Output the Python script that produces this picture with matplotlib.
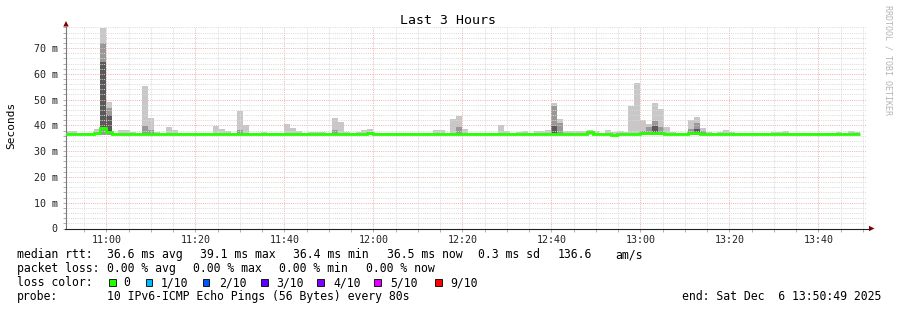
import matplotlib
matplotlib.use("Agg")
import matplotlib.pyplot as plt
from matplotlib.patches import Rectangle, Polygon
from matplotlib.lines import Line2D
from matplotlib.ticker import FixedLocator, MultipleLocator

# ---------------- data ----------------
step_seconds = 80
first_step_start_min = -560 / 60      # 10:50:40, minutes relative to 11:00
window_start_min = -(9 * 60 + 11) / 60  # 10:50:49
window_minutes = 180

median_ms = [
    36.6, 36.6, 36.5, 36.6, 36.6, 37.0, 39.1, 37.3, 36.6, 36.6,
    36.6, 36.5, 36.6, 36.6, 36.6, 36.6, 36.5, 36.6, 36.6, 36.6,
    36.6, 36.6, 36.5, 36.6, 36.6, 36.6, 36.6, 36.5, 36.6, 36.6,
    36.6, 36.6, 36.6, 36.5, 36.6, 36.6, 36.6, 36.6, 36.6, 36.5,
    36.6, 36.6, 36.6, 36.6, 36.5, 36.6, 36.6, 36.6, 36.6, 36.6,
    36.7, 37.2, 36.6, 36.6, 36.5, 36.6, 36.6, 36.6, 36.6, 36.6,
    36.6, 36.5, 36.6, 36.6, 36.6, 36.7, 36.7, 36.6, 36.6, 36.6,
    36.5, 36.6, 36.6, 36.6, 36.6, 36.6, 36.5, 36.6, 36.6, 36.6,
    36.6, 36.6, 36.7, 36.7, 36.6, 36.6, 36.6, 36.6, 37.3, 36.6,
    36.6, 36.6, 36.4, 36.5, 36.6, 36.6, 36.6, 37.0, 37.0, 37.0,
    37.0, 36.6, 36.6, 36.6, 36.6, 36.9, 36.9, 36.6, 36.6, 36.6,
    36.6, 36.6, 36.6, 36.6, 36.5, 36.6, 36.6, 36.6, 36.6, 36.6,
    36.6, 36.6, 36.6, 36.5, 36.6, 36.6, 36.6, 36.6, 36.6, 36.6,
    36.6, 36.6, 36.6, 36.5,
]

smoke_max_ms = [
    37.7, 37.7, 37.0, 37.0, 37.0, 38.6, 77.8, 49.0, 37.0, 38.1,
    38.1, 37.3, 37.0, 55.2, 42.9, 37.5, 37.0, 39.3, 38.1, 37.0,
    37.0, 37.0, 37.0, 37.0, 37.0, 39.7, 38.6, 37.9, 37.0, 45.5,
    40.1, 37.0, 37.0, 37.5, 37.0, 37.0, 37.0, 40.5, 38.9, 37.9,
    37.0, 37.5, 37.5, 37.5, 37.0, 42.8, 41.2, 37.5, 37.0, 37.5,
    38.1, 38.6, 37.0, 37.0, 37.0, 37.0, 37.0, 37.0, 37.0, 37.0,
    37.0, 37.0, 38.1, 38.1, 37.0, 42.4, 43.7, 38.6, 37.0, 37.0,
    37.0, 37.0, 37.0, 40.1, 37.9, 37.0, 37.5, 37.9, 37.0, 37.9,
    37.9, 38.1, 48.8, 42.4, 38.0, 37.9, 37.9, 37.9, 38.1, 37.9,
    37.0, 38.1, 37.5, 37.9, 37.5, 47.6, 56.6, 42.0, 40.5, 48.6,
    46.3, 39.3, 37.5, 37.0, 37.0, 42.0, 43.2, 38.9, 37.5, 37.0,
    37.5, 38.1, 37.5, 37.0, 37.0, 37.0, 37.0, 37.0, 37.0, 37.5,
    37.5, 38.0, 37.0, 37.0, 37.0, 37.0, 37.0, 37.0, 37.0, 37.0,
    37.5, 37.0, 37.9, 37.5,
]
smoke_min_ms = 36.2

mid_steps = [6, 7, 13, 14, 29, 45, 66, 82, 83, 97, 98, 99, 100, 105, 106, 107]
mid_top_ms = [71.9, 46.6, 39.7, 38.1, 38.1, 38.1, 39.4, 47.5, 40.8, 38.0, 39.2,
              41.6, 39.4, 38.8, 40.9, 37.7]
mid_bottom_ms = 36.4

dark_steps = [6, 7, 82, 99, 106]
dark_top_ms = [64.6, 44.0, 39.7, 39.8, 38.6]
dark_bottom_ms = [39.4, 37.0, 37.0, 37.0, 37.0]

x_tick_labels = ["11:00", "11:20", "11:40", "12:00", "12:20", "12:40", "13:00", "13:20", "13:40"]
y_tick_values = [0, 10, 20, 30, 40, 50, 60, 70]
y_tick_labels = ["0", "10 m", "20 m", "30 m", "40 m", "50 m", "60 m", "70 m"]

loss_labels = ["0", "1/10", "2/10", "3/10", "4/10", "5/10", "9/10"]
loss_colors = ["#26ff00", "#00b8ff", "#0059ff", "#5e00ff", "#7e00ff", "#dd00ff", "#ff0000"]

# ---------------- layout ----------------
MONO = "DejaVu Sans Mono"
W, H = 897, 310
fig = plt.figure(figsize=(W / 100, H / 100), dpi=100)
fig.patch.set_facecolor("white")

def fx(x):
    return x / W

def fy(y):
    return 1 - y / H

L, R, T, B = 65.5, 866.5, 26.7, 228.5
ax = fig.add_axes([fx(L), fy(B), (R - L) / W, (B - T) / H])
ax.set_facecolor("white")
ax.set_xlim(window_start_min, window_start_min + window_minutes)
ax.set_ylim(0, 78.3)

n = len(median_ms)
step = step_seconds / 60
edges = [first_step_start_min + i * step for i in range(n + 1)]

light = "#c8c8c8"
mid = "#989898"
dark = "#5a5a5a"

ax.stairs(smoke_max_ms, edges, baseline=smoke_min_ms, fill=True, color=light,
          lw=0, zorder=1)

mid_full = [mid_bottom_ms] * n
for s, v in zip(mid_steps, mid_top_ms):
    mid_full[s] = v
ax.stairs(mid_full, edges, baseline=mid_bottom_ms, fill=True, color=mid, lw=0, zorder=1.1)

dark_full = [37.0] * n
dark_base = [37.0] * n
for s, v, b in zip(dark_steps, dark_top_ms, dark_bottom_ms):
    dark_full[s] = v
    dark_base[s] = b
ax.stairs(dark_full, edges, baseline=dark_base, fill=True, color=dark, lw=0, zorder=1.2)

ax.stairs(median_ms, edges, baseline=None, color="#26ff00", lw=2.0, zorder=3)

# grid and ticks
xt = [20 * i for i in range(len(x_tick_labels))]
ax.xaxis.set_major_locator(FixedLocator(xt))
ax.set_xticklabels(x_tick_labels)
ax.xaxis.set_minor_locator(MultipleLocator(5))
ax.yaxis.set_major_locator(FixedLocator(y_tick_values))
ax.set_yticklabels(y_tick_labels)
ax.yaxis.set_minor_locator(MultipleLocator(2))
ax.set_axisbelow("line")
ax.grid(which="minor", color="#dadada", lw=0.72, ls=(0, (1, 1.2)))
ax.grid(which="major", color="#f3b3b3", lw=0.72, ls=(0, (1, 1.2)))
ax.tick_params(which="both", direction="out", length=2, width=0.72, color="#b0b0b0")
ax.tick_params(axis="y", which="major", pad=3.5, labelsize=7.2, labelcolor="#222222")
ax.tick_params(axis="x", which="major", pad=2.5, labelsize=7.2, labelcolor="#222222")
for lab in ax.get_xticklabels() + ax.get_yticklabels():
    lab.set_family(MONO)

for s in ["top", "right", "bottom"]:
    ax.spines[s].set_visible(False)
ax.spines["left"].set_color("#777777")
ax.spines["left"].set_linewidth(0.8)

# x axis line and arrows
fig.add_artist(Line2D([fx(L - 1), fx(869)], [fy(B), fy(B)], transform=fig.transFigure,
                      color="#222222", lw=0.8))
fig.add_artist(Polygon([(fx(63.3), fy(26.5)), (fx(68.7), fy(26.5)), (fx(66), fy(21))],
                       closed=True, transform=fig.transFigure, color="#7f0000", lw=0))
fig.add_artist(Polygon([(fx(869), fy(225.8)), (fx(869), fy(231.2)), (fx(874.5), fy(228.5))],
                       closed=True, transform=fig.transFigure, color="#7f0000", lw=0))

# title, y label, watermark
fig.text(fx(448), fy(24), "Last 3 Hours", ha="center", va="baseline", fontsize=9.5,
         family=MONO, color="black")
fig.text(fx(11), fy(125), "Seconds", rotation=90, ha="center", va="center",
         fontsize=8.0, family=MONO, color="black")
fig.text(fx(888), fy(5), "RRDTOOL / TOBI OETIKER", rotation=270, ha="center", va="top",
         fontsize=6.0, family=MONO, color="#b4b4b4")

# legend lines
FS = 8.3
line1 = [(16.7, "median rtt:"), (107.3, "36.6 ms avg"), (200, "39.1 ms max"),
         (293, "36.4 ms min"), (387, "36.5 ms now"), (478, "0.3 ms sd"),
         (558, "136.6"), (615, "am/s")]
line2 = [(16.7, "packet loss:"), (107.3, "0.00 % avg"), (193.3, "0.00 % max"),
         (279.3, "0.00 % min"), (365.7, "0.00 % now")]
line4 = [(16.7, "probe:"), (107.3, "10 IPv6-ICMP Echo Pings (56 Bytes) every 80s")]
for y, chunks in [(258.3, line1), (272.3, line2), (300.3, line4)]:
    for x, s in chunks:
        fig.text(fx(x), fy(y), s, ha="left", va="baseline", fontsize=FS, family=MONO,
                 color="black")
fig.text(fx(881), fy(300.3), "end: Sat Dec  6 13:50:49 2025", ha="right", va="baseline",
         fontsize=FS, family=MONO, color="black")

fig.text(fx(16.7), fy(286.3), "loss color:", ha="left", va="baseline", fontsize=FS,
         family=MONO, color="black")
box_x = [109, 145.7, 202.7, 261, 317.3, 374, 435]
lab_x = [123.3, 161, 218.7, 276, 333.3, 390.7, 450.5]
for bx, lx, lab, col in zip(box_x, lab_x, loss_labels, loss_colors):
    fig.add_artist(Rectangle((fx(bx), fy(286)), 6.7 / W, 6.7 / H, transform=fig.transFigure,
                             facecolor=col, edgecolor="black", lw=0.6))
    fig.text(fx(lx), fy(286.3), lab, ha="left", va="baseline", fontsize=FS, family=MONO,
             color="black")

fig.savefig("out.png", dpi=100, facecolor="white")
